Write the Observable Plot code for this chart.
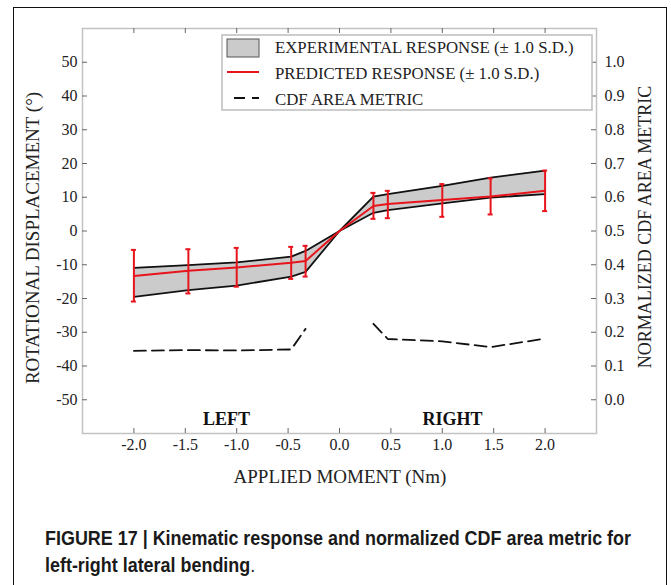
<!DOCTYPE html>
<html><head><meta charset="utf-8">
<script src="https://cdn.jsdelivr.net/npm/d3@7"></script>
<script src="https://cdn.jsdelivr.net/npm/@observablehq/plot@0.6"></script>
<style>
body{margin:0;background:#fff;width:671px;height:585px;overflow:hidden;position:relative;font-family:"Liberation Serif",serif}
#chart{position:absolute;left:0;top:0}
#border{position:absolute;left:13px;top:7px;width:652px;height:640px;border:1.5px solid #111;pointer-events:none}
#caption{position:absolute;left:45px;top:525px;font-family:"Liberation Sans",Arial,sans-serif;font-weight:bold;font-size:20px;line-height:27px;color:#1a1a1a;white-space:nowrap;transform-origin:0 0}
</style></head><body>
<div id="chart"></div>
<div id="caption"><span id="cap1">FIGURE 17 | Kinematic response and normalized CDF area metric for</span><br>left-right lateral bending<span style="font-weight:normal">.</span></div>
<div id="border"></div>
<script>
// Applied moment (Nm)
const moments   = [-2.0, -1.47, -1.0, -0.47, -0.33, 0, 0.33, 0.47, 1.0, 1.47, 2.0];
// Experimental response band (mean ± 1.0 S.D.), degrees
const expUpper  = [-10.9, -10.1, -9.3, -7.6, -5.9, 0, 10.2, 10.9, 13.4, 15.8, 17.9];
const expLower  = [-19.5, -17.5, -16.2, -13.5, -12.1, 0, 5.4, 6.2, 8.2, 9.9, 10.9];
// Predicted response and ± 1.0 S.D.
const predMean  = [-13.3, -11.8, -10.8, -9.4, -8.9, 0, 7.4, 8.0, 9.2, 10.2, 11.9];
const predHi    = [-5.6, -5.4, -5.0, -4.7, -4.4, null, 11.3, 11.9, 13.9, 15.6, 17.9];
const predLo    = [-20.9, -18.5, -16.5, -14.2, -13.5, null, 3.6, 3.8, 4.2, 4.9, 5.9];
// Normalized CDF area metric (right axis)
const cdfMetric = [0.145, 0.147, 0.146, 0.149, 0.21, null, 0.225, 0.18, 0.173, 0.156, 0.181];

const xTicks = [-2.0, -1.5, -1.0, -0.5, 0.0, 0.5, 1.0, 1.5, 2.0];
const yTicks = [-50, -40, -30, -20, -10, 0, 10, 20, 30, 40, 50];
const rightTickLabels = ["0.0","0.1","0.2","0.3","0.4","0.5","0.6","0.7","0.8","0.9","1.0"];
const sideLabels = ["LEFT", "RIGHT"];
const sideX = [-1.1, 1.1];
const legendLabels = ["EXPERIMENTAL RESPONSE (\u00b1 1.0 S.D.)", "PREDICTED RESPONSE (\u00b1 1.0 S.D.)", "CDF AREA METRIC"];

const rows = moments.map((m, i) => ({
  m, up: expUpper[i], lo: expLower[i], pred: predMean[i],
  ph: predHi[i], pl: predLo[i],
  cdf: cdfMetric[i] == null ? NaN : cdfMetric[i] * 100 - 50
}));
const errRows = rows.filter(d => d.ph != null);
const RED = "#e8141c";
const frameW = 671 - 82 - 75, frameH = 500 - 28 - 67;

const chart = Plot.plot({
  width: 671, height: 500,
  marginLeft: 82, marginRight: 75, marginTop: 28, marginBottom: 67,
  style: {fontFamily: "Liberation Serif, serif", fontSize: "16px", color: "#222", background: "transparent"},
  x: {domain: [-2.5, 2.5]},
  y: {domain: [-60, 60]},
  marks: [
    Plot.areaY(rows, {x: "m", y1: "lo", y2: "up", fill: "#cbcbcb"}),
    Plot.line(rows, {x: "m", y: "up", stroke: "#111", strokeWidth: 1.8}),
    Plot.line(rows, {x: "m", y: "lo", stroke: "#111", strokeWidth: 1.8}),
    Plot.line(rows, {x: "m", y: "pred", stroke: RED, strokeWidth: 2}),
    Plot.ruleX(errRows, {x: "m", y1: "pl", y2: "ph", stroke: RED, strokeWidth: 2}),
    Plot.ruleY(errRows, {x1: "m", x2: "m", y: "ph", insetLeft: -2.5, insetRight: -2.5, stroke: RED, strokeWidth: 2}),
    Plot.ruleY(errRows, {x1: "m", x2: "m", y: "pl", insetLeft: -2.5, insetRight: -2.5, stroke: RED, strokeWidth: 2}),
    Plot.line(rows, {x: "m", y: "cdf", stroke: "#111", strokeWidth: 1.8, strokeDasharray: "12,6"}),
    Plot.text(sideLabels, {x: (d, i) => sideX[i], text: d => d, frameAnchor: "bottom", dy: -14, lineAnchor: "middle", fontWeight: "bold", fontSize: 18, fill: "#111"}),
    Plot.frame({stroke: "#c2c2c2", strokeWidth: 1.5}),
    Plot.ruleX(xTicks, {x: d => d, insetTop: frameH - 5, stroke: "#666"}),
    Plot.ruleX(xTicks, {x: d => d, insetBottom: frameH - 5, stroke: "#666"}),
    Plot.ruleY(yTicks, {y: d => d, insetRight: frameW - 5, stroke: "#666"}),
    Plot.ruleY(yTicks, {y: d => d, insetLeft: frameW - 5, stroke: "#666"}),
    Plot.axisX(xTicks, {tickSize: 0, tickPadding: 5, tickFormat: d => d.toFixed(1), label: null}),
    Plot.axisY(yTicks, {anchor: "left", tickSize: 0, tickPadding: 5, tickFormat: d => String(d), label: null}),
    Plot.axisY(yTicks, {anchor: "right", tickSize: 0, tickPadding: 8, tickFormat: (d, i) => rightTickLabels[i], label: null})
  ]
});
document.getElementById("chart").appendChild(chart);

const svg = d3.select(chart);
const title = (txt, x, y, size, rot) => {
  svg.append("text").attr("transform", `translate(${x},${y})` + (rot ? " rotate(-90)" : ""))
    .attr("text-anchor", "middle").attr("dominant-baseline", "central")
    .attr("font-family", "Liberation Serif, serif").attr("font-size", size).attr("fill", "#222").text(txt);
};
title("APPLIED MOMENT (Nm)", 340, 476, 19, false);
title("ROTATIONAL DISPLACEMENT (\u00b0)", 32, 238, 19, true);
title("NORMALIZED CDF AREA METRIC", 645, 227, 18, true);

// Legend
const lg = svg.append("g");
lg.append("rect").attr("x", 222).attr("y", 35).attr("width", 370).attr("height", 75)
  .attr("fill", "white").attr("stroke", "#bdbdbd").attr("stroke-width", 1.5);
lg.append("rect").attr("x", 227).attr("y", 39).attr("width", 32).attr("height", 18)
  .attr("fill", "#cbcbcb").attr("stroke", "#555").attr("stroke-width", 1);
lg.append("line").attr("x1", 227).attr("x2", 259).attr("y1", 72).attr("y2", 72).attr("stroke", RED).attr("stroke-width", 2);
lg.append("line").attr("x1", 234).attr("x2", 259).attr("y1", 98).attr("y2", 98).attr("stroke", "#111").attr("stroke-width", 2).attr("stroke-dasharray", "11,7");
legendLabels.forEach((t, i) => {
  lg.append("text").attr("x", 275).attr("y", [47, 73, 99][i]).attr("dominant-baseline", "central")
    .attr("text-anchor", "start")
    .attr("font-family", "Liberation Serif, serif").attr("font-size", 16.8).attr("fill", "#222").text(t);
});

// Caption: condensed to the reference's line width
const cap = document.getElementById("caption");
const w = document.getElementById("cap1").getBoundingClientRect().width;
cap.style.transform = `scaleX(${586 / w})`;
</script>
</body></html>
